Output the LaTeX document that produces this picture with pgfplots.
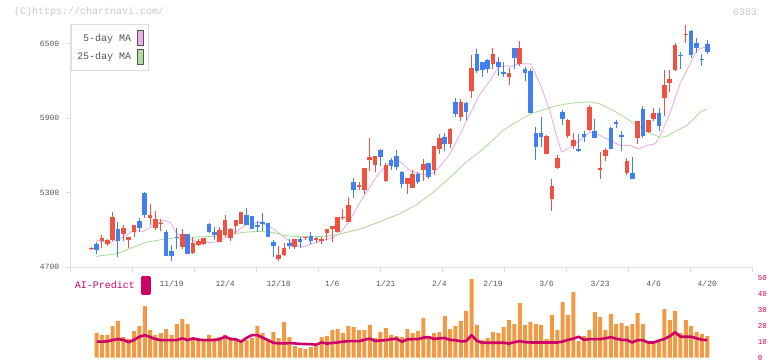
\documentclass[border=0pt]{standalone}
\usepackage{pgfplots}
\pgfplotsset{compat=1.18}
\usepackage{pgfplotstable}
\usepackage{fontspec}
\setmainfont{Liberation Sans}
\setmonofont{Liberation Mono}
\definecolor{cred}{RGB}{240,82,64}
\definecolor{cblue}{RGB}{64,128,240}
\definecolor{mapink}{RGB}{232,176,232}
\definecolor{magreen}{RGB}{176,220,160}
\definecolor{volor}{RGB}{242,153,68}
\definecolor{aimag}{RGB}{204,0,102}
\definecolor{axgray}{RGB}{221,221,221}
\definecolor{txgray}{RGB}{85,85,85}
\definecolor{hdgray}{RGB}{200,200,200}

% up (red) candles: k O H L C
\pgfplotstableread{
k O H L C
0 4844 4860 4842 4858
2 4909 4957 4858 4938
3 4884 4927 4868 4917
4 4917 5142 4909 5102
6 4965 5037 4909 5019
7 4917 4946 4852 4946
8 4984 5037 4944 5037
11 5097 5206 5037 5118
12 5013 5150 5002 5086
13 5045 5086 4992 5059
17 4863 5005 4844 4965
19 4815 4941 4807 4893
20 4876 4927 4868 4909
21 4884 4933 4876 4933
24 4901 5021 4901 4997
25 4957 5118 4944 5078
26 4935 5013 4909 5005
27 5029 5078 4965 5078
28 5045 5142 5045 5142
35 4764 4868 4748 4796
36 4796 4893 4788 4852
38 4860 4925 4844 4925
40 4934 4945 4917 4946
42 4918 4941 4893 4932
43 4910 4941 4884 4924
44 4973 5005 4917 5005
45 5005 5029 4901 5029
46 4981 5102 4973 5102
47 5094 5166 5078 5108
48 5062 5263 5062 5198
50 5346 5384 5319 5360
51 5319 5496 5287 5496
52 5561 5738 5472 5585
53 5528 5593 5464 5593
55 5392 5544 5384 5528
59 5368 5416 5287 5416
60 5335 5480 5335 5448
62 5480 5569 5392 5536
64 5480 5681 5440 5681
65 5657 5770 5609 5738
67 5697 5820 5665 5813
69 5907 6052 5875 6028
71 6124 6414 6060 6309
75 6341 6470 6301 6422
78 6229 6309 6172 6269
80 6341 6519 6325 6470
85 5609 5762 5609 5754
86 5247 5408 5150 5351
87 5496 5601 5488 5577
89 5754 5895 5738 5883
90 5681 5778 5657 5722
93 5805 6011 5795 5995
95 5486 5625 5408 5500
96 5593 5665 5553 5641
100 5456 5577 5440 5553
102 5738 5880 5690 5875
104 5790 5885 5785 5883
105 5891 5987 5875 5939
107 6060 6293 5915 6172
108 6188 6293 6116 6213
109 6293 6510 6285 6494
111 6568 6655 6510 6582
}\upc

% down (blue) candles: k O H L C
\pgfplotstableread{
k O H L C
1 4884 4901 4804 4842
5 5011 5062 4783 4909
9 5070 5097 4984 5016
10 5298 5303 5097 5118
14 4984 5002 4788 4788
15 4828 4876 4750 4788
16 4944 5019 4844 4932
18 4970 4970 4807 4807
22 5045 5054 4976 4981
23 4981 5021 4917 4957
29 5118 5174 5037 5037
30 5110 5110 5005 5005
31 5037 5070 4984 5024
32 5061 5134 4989 5048
33 5054 5054 4941 4941
34 4901 4917 4780 4868
37 4893 4925 4844 4868
39 4925 4941 4852 4901
41 4949 4981 4884 4909
49 5384 5416 5255 5319
54 5641 5657 5520 5585
56 5561 5577 5480 5520
57 5593 5641 5480 5512
58 5464 5472 5335 5368
61 5448 5464 5368 5384
63 5544 5544 5408 5424
66 5746 5778 5633 5697
68 6028 6060 5907 5931
70 6020 6028 5883 5955
72 6422 6462 6269 6285
73 6350 6350 6229 6293
74 6366 6382 6269 6301
76 6350 6398 6245 6317
77 6270 6350 6237 6256
79 6470 6470 6301 6390
81 6301 6317 6197 6264
82 6285 6301 5939 5947
83 5780 5834 5561 5673
84 5780 5910 5673 5746
88 5955 5971 5850 5891
91 5657 5770 5625 5633
92 5770 5794 5706 5746
94 5802 5891 5738 5738
97 5826 5830 5657 5657
98 5867 5883 5820 5851
99 5762 5794 5633 5750
101 5456 5585 5408 5408
103 5979 6003 5738 5754
106 5947 5987 5802 5842
110 6414 6438 6301 6402
112 6607 6615 6390 6414
113 6510 6551 6430 6470
114 6382 6422 6325 6370
115 6502 6535 6422 6438
}\dnc

\newcommand\tickfont{\ttfamily\fontsize{8}{9}\selectfont}
\newcommand\legfont{\ttfamily\fontsize{10}{12}\selectfont}

\begin{document}
\begin{tikzpicture}[x=1pt,y=1pt]
\useasboundingbox (0pt,0pt) rectangle (772pt,361pt);
\node[font=\legfont, text=hdgray, anchor=west, inner sep=0pt] at (14pt,349pt) {(C)https://chartnavi.com/};
\node[font=\legfont, text=hdgray, anchor=east, inner sep=0pt] at (757pt,349pt) {6383};

% ---------------- price panel ----------------
\begin{axis}[
  at={(70.7pt,93.7pt)}, anchor=south west, scale only axis,
  width=681.6pt, height=243.3pt,
  xmin=-3.827, xmax=123.41, ymin=4700, ymax=6660,
  axis x line*=bottom, axis y line*=left,
  axis line style={draw=axgray, line width=1pt},
  tick style={draw=axgray, line width=1pt},
  tick align=outside, major tick length=5pt,
  xtick={-3.827,7.740,19.307,30.874,42.441,54.008,65.575,77.142,88.709,100.276,111.843,123.41},
  xticklabels={},
  extra x ticks={15,25,35,45,55,65,75,85,95,105,115},
  extra x tick labels={11/19,12/4,12/18,1/6,1/21,2/4,2/19,3/6,3/23,4/6,4/20},
  extra x tick style={major tick length=0pt, tick label style={anchor=center, yshift=-16.3pt}},
  xticklabel style={font=\tickfont, text=txgray},
  ytick={4700,5300,5900,6500},
  yticklabels={4700,5300,5900,6500},
  yticklabel style={font=\tickfont, text=txgray, xshift=-3pt},
  legend style={at={(0,1)}, anchor=north west, draw=axgray, line width=0.8pt,
    fill=white, font=\legfont, text=txgray, inner xsep=4pt, inner ysep=6pt,
    row sep=2.5pt, column sep=3.5pt},
  legend cell align=right, legend plot pos=right,
]
\addplot[mapink, line width=0.9pt,
  legend image code/.code={\draw[fill=mapink, draw=txgray, line width=0.8pt] (0pt,-7.5pt) rectangle (6.5pt,7.5pt);}]
coordinates {(1,4917)(3.5,4898)(6,4943)(7.9,4997)(9.7,4989)(11.6,5037)(13.5,5078)(14.7,5064)(16,4970)(17.8,4930)(20.3,4903)(22.8,4900)(24.7,4930)(26.5,4970)(29,5045)(31.5,5064)(32,5051)(34,5011)(36,4943)(37.7,4890)(39.6,4863)(42,4903)(44.6,4930)(46.4,4970)(48.3,5078)(50,5212)(52,5346)(53.6,5453)(55.8,5547)(57.6,5555)(59.5,5480)(61.4,5453)(63.2,5445)(64.5,5480)(67,5614)(68.9,5775)(70.7,5936)(72.6,6097)(74.5,6205)(76,6312)(77.6,6323)(78.2,6317)(80,6339)(82,6339)(83.8,6178)(85.6,5963)(86.6,5802)(87.8,5628)(89.4,5668)(91.2,5722)(93.1,5789)(95,5762)(96.8,5722)(98.7,5681)(100.6,5681)(102.2,5654)(103.7,5681)(105.3,5695)(106.2,5762)(108,5936)(109.9,6178)(111.8,6339)(113,6446)(114.3,6473)(115,6465)};
\addlegendentry{5-day MA}
\addplot[magreen, line width=0.9pt,
  legend image code/.code={\draw[fill=magreen, draw=txgray, line width=0.8pt] (0pt,-7.5pt) rectangle (6.5pt,7.5pt);}]
coordinates {(0.9,4788)(4.8,4809)(7.9,4863)(10.4,4903)(13.5,4925)(15.3,4935)(19.1,4943)(22.8,4949)(26.5,4970)(29,4984)(31.5,4989)(34,4980)(36,4957)(37.7,4949)(44,4949)(46,4965)(50,5005)(54.5,5078)(57.6,5131)(60.8,5206)(63.9,5306)(67,5426)(70,5547)(73.2,5654)(76.9,5802)(78.8,5856)(82,5936)(84.4,5969)(86.3,5995)(89.4,6022)(93.1,6033)(95,6017)(97.5,5963)(100,5896)(102.5,5829)(104.6,5775)(106.2,5748)(107.4,5754)(109.3,5802)(111.2,5842)(113.7,5950)(115,5977)};
\addlegendentry{25-day MA}
% wicks
\addplot[draw=none, mark=none, forget plot,
  error bars/.cd, y dir=plus, y explicit, error mark=none,
  error bar style={draw=cred, line width=1pt}]
  table[x=k, y=L, y error plus expr=\thisrow{H}-\thisrow{L}] {\upc};
\addplot[draw=none, mark=none, forget plot,
  error bars/.cd, y dir=plus, y explicit, error mark=none,
  error bar style={draw=cblue, line width=1pt}]
  table[x=k, y=L, y error plus expr=\thisrow{H}-\thisrow{L}] {\dnc};
% bodies
\addplot[draw=none, mark=none, forget plot,
  error bars/.cd, y dir=plus, y explicit, error mark=none,
  error bar style={draw=cred, line width=4.6pt}]
  table[x=k, y=O, y error plus expr=\thisrow{C}-\thisrow{O}] {\upc};
\addplot[draw=none, mark=none, forget plot,
  error bars/.cd, y dir=plus, y explicit, error mark=none,
  error bar style={draw=cblue, line width=4.6pt}]
  table[x=k, y=C, y error plus expr=\thisrow{O}-\thisrow{C}] {\dnc};
\end{axis}

% ---------------- volume panel ----------------
\begin{axis}[
  at={(70.7pt,3.3pt)}, anchor=south west, scale only axis,
  width=681.6pt, height=79.4pt,
  xmin=-3.827, xmax=123.41, ymin=0, ymax=50,
  axis x line=none, axis y line*=right,
  y axis line style={draw=none},
  ytick={0,10,20,30,40,50}, yticklabels={0,10,20,30,40,50},
  major tick length=0pt,
  yticklabel style={font=\ttfamily\fontsize{7.5}{9}\selectfont, text=aimag, anchor=west, xshift=2pt},
  legend style={at={(0,1)}, anchor=north west, draw=none, fill=none,
    font=\legfont, text=aimag, inner xsep=2pt, inner ysep=0pt, yshift=2pt, column sep=4pt},
  legend plot pos=right,
]
\addplot[ybar, bar width=4pt, bar shift=0pt, fill=volor, draw=none, forget plot]
coordinates {(1,15.7)(2,14.3)(3,14.3)(4,19.9)(5,23.1)(6,13.0)(7,11.8)(8,16.8)(9,19.9)(10,32.5)
(11,17.4)(12,14.3)(13,15.5)(14,18.0)(15,14.3)(16,21.2)(17,24.3)(18,21.2)(19,12.4)(20,12.4)
(21,11.8)(22,14.3)(23,12.4)(24,13.0)(25,14.3)(26,13.0)(27,11.8)(28,10.2)(29,11.0)(30,12.4)
(31,19.9)(32,15.5)(33,11.1)(34,16.2)(35,12.4)(36,22.4)(37,13.0)(38,7.3)(39,6.1)(40,5.4)
(41,6.7)(42,7.3)(43,13.0)(44,13.6)(45,17.4)(46,18.0)(47,15.5)(48,19.9)(49,19.3)(50,17.4)
(51,17.4)(52,20.6)(53,12.4)(54,16.2)(55,18.7)(56,14.3)(57,13.6)(58,13.0)(59,18.0)(60,15.5)
(61,16.8)(62,25.0)(63,13.0)(64,15.5)(65,16.2)(66,26.2)(67,18.0)(68,19.9)(69,23.1)(70,29.4)
(71,49.5)(72,20.6)(73,11.1)(74,12.4)(75,16.2)(76,15.5)(77,19.3)(78,23.7)(79,21.2)(80,34.4)
(81,20.6)(82,22.4)(83,21.2)(84,20.6)(85,11.8)(86,26.9)(87,17.4)(88,35.0)(89,26.9)(90,41.3)
(91,10.5)(92,13.6)(93,17.4)(94,28.7)(95,25.6)(96,17.4)(97,27.5)(98,21.2)(99,21.8)(100,19.9)
(101,21.2)(102,28.1)(103,21.2)(104,9.9)(105,9.9)(106,9.9)(107,30.6)(108,23.7)(109,29.4)(110,15.5)
(111,23.7)(112,19.9)(113,16.2)(114,14.9)(115,13.6)};
\addplot[aimag, line width=2.6pt, line join=round,
  legend image code/.code={\fill[aimag] (0pt,-8pt) rectangle (7pt,8pt);}]
coordinates {(1,10.1)(2,10.1)(3,10.3)(4,11.1)(5,11.7)(6,11.2)(7,9.8)(8,11.2)(9,13.2)(10,14.2)
(11,13.0)(12,11.7)(13,11.1)(14,11.1)(15,11.1)(16,11.1)(17,12.2)(18,11.1)(19,12.2)(20,11.3)
(21,11.1)(22,11.1)(23,11.1)(24,11.7)(25,13.3)(26,11.7)(27,11.5)(28,10.1)(29,12.5)(30,14.2)
(31,14.2)(32,12.6)(33,11.1)(34,9.4)(35,9.0)(36,9.0)(37,9.2)(38,9.0)(39,8.7)(40,8.6)
(41,8.5)(42,8.2)(43,9.6)(44,8.9)(45,9.3)(46,9.6)(47,10.1)(48,10.4)(49,10.4)(50,10.4)
(51,11.3)(52,12.0)(53,10.6)(54,10.8)(55,11.1)(56,11.6)(57,12.0)(58,10.1)(59,11.5)(60,11.7)
(61,11.7)(62,12.6)(63,13.0)(64,11.8)(65,12.2)(66,12.4)(67,11.2)(68,11.0)(69,10.3)(70,10.4)
(71,14.2)(72,10.6)(73,9.4)(74,9.4)(75,9.4)(76,9.4)(77,9.4)(78,8.9)(79,9.8)(80,10.4)
(81,9.8)(82,9.6)(83,9.6)(84,9.6)(85,9.6)(86,9.6)(87,9.6)(88,10.2)(89,11.2)(90,12.0)
(91,13.2)(92,11.3)(93,11.7)(94,11.7)(95,11.7)(96,12.2)(97,13.0)(98,11.9)(99,11.3)(100,11.1)
(101,9.6)(102,11.1)(103,11.0)(104,9.6)(105,9.6)(106,10.8)(107,11.8)(108,13.5)(109,16.0)(110,13.2)
(111,13.2)(112,13.2)(113,12.2)(114,11.3)(115,11.1)};
\addlegendentry{AI-Predict}
\end{axis}
\end{tikzpicture}
\end{document}
